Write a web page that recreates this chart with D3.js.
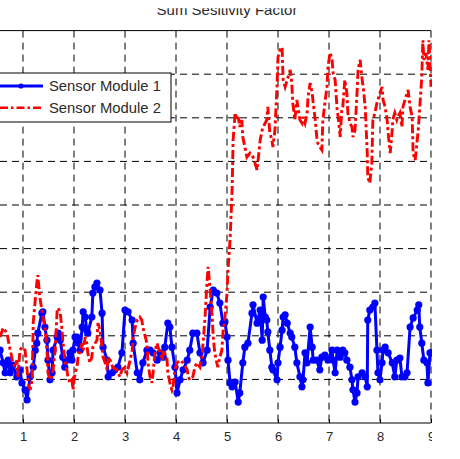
<!DOCTYPE html>
<html>
<head>
<meta charset="utf-8">
<script src="https://cdn.jsdelivr.net/npm/d3@7/dist/d3.min.js"></script>
<style>
  html, body { margin: 0; padding: 0; background: #fff; }
  svg { display: block; }
  text { font-family: "Liberation Sans", Arial, sans-serif; }
</style>
</head>
<body>
<svg id="chart" width="460" height="459"></svg>
<script>
// ---------- data ----------
const titleText = "Sum Sesitivity Factor";
const seriesNames = ["Sensor Module 1", "Sensor Module 2"];
const xTicks = [1, 2, 3, 4, 5, 6, 7, 8, 9];
const yTicks = [0, 1, 2, 3, 4, 5, 6, 7, 8, 9];

const s1Time = [0.55,0.61,0.65,0.71,0.75,0.80,0.88,0.94,0.98,1.04,1.08,1.14,1.20,1.24,1.27,1.29,1.37,1.39,1.43,1.47,1.49,1.53,1.57,1.59,1.67,1.69,1.73,1.78,1.82,1.86,1.92,1.96,1.98,2.02,2.06,2.08,2.12,2.16,2.18,2.22,2.25,2.27,2.35,2.37,2.41,2.45,2.51,2.55,2.57,2.65,2.67,2.75,2.80,2.86,2.94,3.00,3.06,3.14,3.16,3.24,3.29,3.35,3.43,3.49,3.55,3.63,3.69,3.75,3.78,3.84,3.88,3.92,3.98,4.02,4.08,4.14,4.22,4.27,4.33,4.41,4.47,4.53,4.61,4.67,4.73,4.80,4.86,4.92,4.96,5.00,5.02,5.06,5.10,5.16,5.22,5.25,5.31,5.35,5.41,5.49,5.51,5.59,5.65,5.69,5.71,5.75,5.78,5.80,5.84,5.88,5.90,5.98,6.00,6.04,6.08,6.10,6.14,6.18,6.24,6.27,6.33,6.37,6.43,6.47,6.49,6.53,6.57,6.63,6.67,6.69,6.76,6.82,6.86,6.92,6.98,7.06,7.08,7.12,7.16,7.22,7.27,7.31,7.35,7.41,7.45,7.47,7.51,7.55,7.57,7.65,7.71,7.75,7.76,7.80,7.86,7.90,7.94,7.96,8.00,8.04,8.06,8.10,8.16,8.24,8.29,8.33,8.39,8.43,8.49,8.53,8.59,8.65,8.73,8.76,8.78,8.82,8.86,8.92,8.94,8.98,9.00];
const s1Value = [1.67,1.38,1.15,1.44,1.15,1.33,1.06,1.22,0.92,0.76,0.53,1.06,1.28,1.67,1.83,2.06,2.52,2.55,2.20,1.90,1.44,0.99,1.15,1.67,1.97,2.06,1.90,1.51,1.28,1.44,1.61,1.44,1.67,1.97,1.97,1.83,1.67,2.20,2.55,2.43,2.13,2.06,2.43,2.98,3.12,3.21,3.05,2.52,1.74,1.44,1.06,1.15,1.22,1.28,1.61,2.59,2.55,2.36,1.83,1.15,0.99,1.38,1.67,1.67,1.61,1.44,1.61,1.51,1.74,2.29,2.20,1.74,1.28,0.69,0.99,1.22,1.44,1.67,2.06,2.06,1.61,1.38,1.67,2.66,3.05,2.98,2.75,2.29,2.32,1.97,1.44,0.92,0.83,0.94,0.48,0.69,1.38,1.74,1.83,2.52,2.71,2.29,2.59,1.90,2.89,2.43,2.36,2.09,1.67,1.28,1.22,0.99,1.38,1.74,2.13,2.43,2.48,2.29,2.06,1.97,1.74,1.38,1.06,0.83,0.99,1.61,1.38,2.20,1.74,1.44,1.44,1.22,1.51,1.56,1.44,1.67,1.44,1.15,1.67,1.51,1.67,1.61,1.44,1.28,0.99,0.76,0.48,0.69,1.06,1.15,1.06,0.83,2.36,2.59,2.66,2.75,1.67,1.15,0.99,1.38,1.67,1.74,1.61,1.38,1.06,1.44,1.49,1.06,1.06,1.15,2.20,2.41,2.59,2.71,2.20,1.83,1.44,1.38,0.92,1.61,1.61];

const s2Time = [0.55,0.61,0.69,0.71,0.75,0.78,0.80,0.84,0.88,0.90,0.94,0.98,1.04,1.08,1.10,1.14,1.18,1.20,1.24,1.27,1.29,1.33,1.37,1.39,1.43,1.47,1.49,1.53,1.57,1.59,1.63,1.67,1.69,1.73,1.76,1.78,1.82,1.86,1.88,1.92,1.96,1.98,2.02,2.06,2.08,2.12,2.16,2.18,2.22,2.25,2.27,2.31,2.35,2.37,2.45,2.47,2.51,2.55,2.57,2.61,2.65,2.67,2.71,2.76,2.84,2.90,2.94,3.00,3.04,3.10,3.14,3.16,3.20,3.24,3.29,3.33,3.35,3.43,3.45,3.49,3.53,3.55,3.59,3.63,3.65,3.69,3.73,3.75,3.82,3.84,3.88,3.92,3.94,3.98,4.02,4.08,4.14,4.22,4.24,4.27,4.33,4.37,4.41,4.47,4.51,4.53,4.57,4.61,4.63,4.67,4.71,4.73,4.76,4.80,4.82,4.86,4.90,4.92,4.96,5.00,5.02,5.06,5.10,5.12,5.16,5.20,5.22,5.25,5.29,5.31,5.35,5.39,5.45,5.51,5.55,5.59,5.61,5.65,5.69,5.71,5.78,5.80,5.84,5.88,5.90,5.94,5.98,6.00,6.04,6.08,6.10,6.14,6.18,6.20,6.24,6.27,6.29,6.33,6.37,6.39,6.43,6.47,6.49,6.53,6.57,6.59,6.63,6.67,6.69,6.73,6.76,6.78,6.82,6.86,6.88,6.92,6.96,6.98,7.02,7.06,7.08,7.12,7.16,7.18,7.22,7.25,7.27,7.31,7.35,7.37,7.41,7.45,7.47,7.51,7.55,7.57,7.61,7.65,7.67,7.71,7.75,7.76,7.80,7.84,7.86,7.90,7.94,7.96,8.00,8.04,8.06,8.10,8.14,8.16,8.20,8.24,8.25,8.29,8.33,8.35,8.39,8.43,8.45,8.49,8.53,8.55,8.59,8.63,8.65,8.69,8.73,8.75,8.78,8.82,8.84,8.86,8.90,8.94,8.96,9.00];
const s2Value = [1.97,2.18,2.06,1.90,1.67,1.51,1.38,1.28,1.44,1.06,1.67,1.74,1.67,1.22,0.92,0.76,0.99,2.29,2.82,3.21,3.39,2.89,2.59,2.43,2.20,1.67,1.15,0.99,1.06,1.22,1.67,2.59,2.64,2.52,2.20,1.90,1.44,1.22,1.06,0.92,0.99,0.76,1.15,1.28,1.51,1.67,1.83,1.67,1.97,1.83,1.61,1.38,1.51,1.74,1.90,2.29,2.13,1.74,1.51,1.38,1.22,1.51,1.44,1.28,1.22,1.06,1.22,1.28,1.15,1.44,1.67,1.97,2.20,2.36,2.43,2.36,2.20,1.83,1.38,1.06,0.92,1.15,1.67,1.83,1.74,1.61,1.44,1.67,1.51,1.15,0.92,0.76,0.83,1.22,1.38,1.44,1.38,1.22,1.06,0.99,1.06,1.28,1.38,1.28,1.51,1.83,2.43,3.28,3.58,3.05,2.43,1.97,1.61,1.38,1.28,1.51,1.67,2.06,2.43,2.98,3.51,4.20,5.34,6.49,7.11,6.95,7.02,6.79,6.95,6.56,6.33,6.10,6.19,6.10,5.96,5.80,6.03,6.49,6.72,6.79,6.95,7.25,6.65,6.49,6.33,6.72,7.71,8.39,8.56,8.62,7.87,7.71,7.87,7.94,8.10,7.80,7.34,6.95,7.41,7.25,6.95,6.88,7.02,6.88,7.11,7.48,7.80,7.57,7.34,6.95,6.56,6.42,6.33,6.26,6.95,7.34,7.71,8.17,8.49,8.33,8.03,7.87,7.18,7.02,6.56,7.18,7.25,7.87,7.57,7.11,6.88,6.79,6.56,6.72,7.57,8.10,8.33,7.87,7.71,7.25,6.19,5.64,5.50,5.96,6.95,7.11,7.34,7.41,7.57,7.71,7.41,7.25,6.95,6.65,6.19,6.72,6.95,7.11,6.95,7.02,7.11,6.79,7.25,7.41,7.57,7.64,7.25,7.02,6.19,6.03,6.49,6.72,7.25,7.94,8.78,8.33,8.49,8.10,8.78,7.71];

// ---------- layout ----------
const svg = d3.select("#chart");
const x = d3.scaleLinear().domain([1, 9]).range([23, 431]);
const y = d3.scaleLinear().domain([0, 9]).range([423, 30.6]);
const plotLeft = 0, plotRight = x(9);

svg.append("defs").append("clipPath").attr("id", "viewClip")
  .append("rect").attr("x", 0).attr("y", 8.3).attr("width", 432).attr("height", 459);

const root = svg.append("g").attr("clip-path", "url(#viewClip)");

// title
root.append("text")
  .attr("x", 227).attr("y", 15)
  .attr("text-anchor", "middle")
  .attr("font-size", 15)
  .attr("fill", "#2a2a2a")
  .text(titleText);

// grid
const grid = root.append("g");
grid.selectAll(".vg").data(xTicks).join("line")
  .attr("x1", d => x(d)).attr("x2", d => x(d))
  .attr("y1", y(9)).attr("y2", y(0))
  .attr("stroke", "#000").attr("stroke-width", 1)
  .attr("stroke-dasharray", "7,5");
grid.selectAll(".hg").data(yTicks.filter(d => d > 0 && d < 9)).join("line")
  .attr("x1", plotLeft).attr("x2", plotRight)
  .attr("y1", d => y(d)).attr("y2", d => y(d))
  .attr("stroke", "#000").attr("stroke-width", 1)
  .attr("stroke-dasharray", "7,5");

// top box line
root.append("line").attr("x1", plotLeft).attr("x2", plotRight)
  .attr("y1", y(9)).attr("y2", y(9)).attr("stroke", "#000").attr("stroke-width", 1);

// x axis
const xAxis = d3.axisBottom(x).tickValues(xTicks).tickFormat(d3.format("d"))
  .tickSizeInner(-4).tickSizeOuter(0).tickPadding(8.8);
const gx = root.append("g").attr("transform", `translate(0,${y(0)})`).call(xAxis);
gx.select(".domain").remove();
gx.selectAll(".tick line").attr("stroke", "#000");
gx.selectAll(".tick text").attr("font-size", 13).attr("fill", "#2a2a2a")
  .attr("font-family", "'Liberation Sans', Arial, sans-serif");
root.append("line").attr("x1", plotLeft).attr("x2", plotRight)
  .attr("y1", y(0)).attr("y2", y(0)).attr("stroke", "#000").attr("stroke-width", 1);

// series
const s1 = s1Time.map((t, i) => [t, s1Value[i]]);
const s2 = s2Time.map((t, i) => [t, s2Value[i]]);
const line = d3.line().x(d => x(d[0])).y(d => y(d[1]));

const plot = root.append("g");
plot.append("path").datum(s1).attr("d", line)
  .attr("fill", "none").attr("stroke", "#0000ff").attr("stroke-width", 3)
  .attr("stroke-linejoin", "round");
plot.selectAll(".m1").data(s1).join("circle")
  .attr("cx", d => x(d[0])).attr("cy", d => y(d[1])).attr("r", 3.6)
  .attr("fill", "#0000ff");
plot.append("path").datum(s2).attr("d", line)
  .attr("fill", "none").attr("stroke", "#ff0000").attr("stroke-width", 2.9)
  .attr("stroke-dasharray", "9,3,3,3");

// legend
const lg = root.append("g");
lg.append("rect").attr("x", -5).attr("y", 73).attr("width", 176).attr("height", 49)
  .attr("fill", "#fff").attr("stroke", "#000").attr("stroke-width", 1);
const legendRows = [
  { name: seriesNames[0], color: "#0000ff", dash: null, ly: 86, ty: 90.9, marker: true },
  { name: seriesNames[1], color: "#ff0000", dash: "8,3,2.5,3", ly: 107.7, ty: 113, marker: false }
];
legendRows.forEach(r => {
  const l = lg.append("line").attr("x1", 0).attr("x2", 43)
    .attr("y1", r.ly).attr("y2", r.ly)
    .attr("stroke", r.color).attr("stroke-width", r.marker ? 3 : 2.6);
  if (r.dash) l.attr("stroke-dasharray", r.dash);
  if (r.marker) lg.append("circle").attr("cx", 21).attr("cy", r.ly).attr("r", 2.6).attr("fill", r.color);
  lg.append("text").attr("x", 49).attr("y", r.ty).attr("font-size", 14.8)
    .attr("fill", "#2a2a2a").text(r.name);
});
</script>
</body>
</html>
